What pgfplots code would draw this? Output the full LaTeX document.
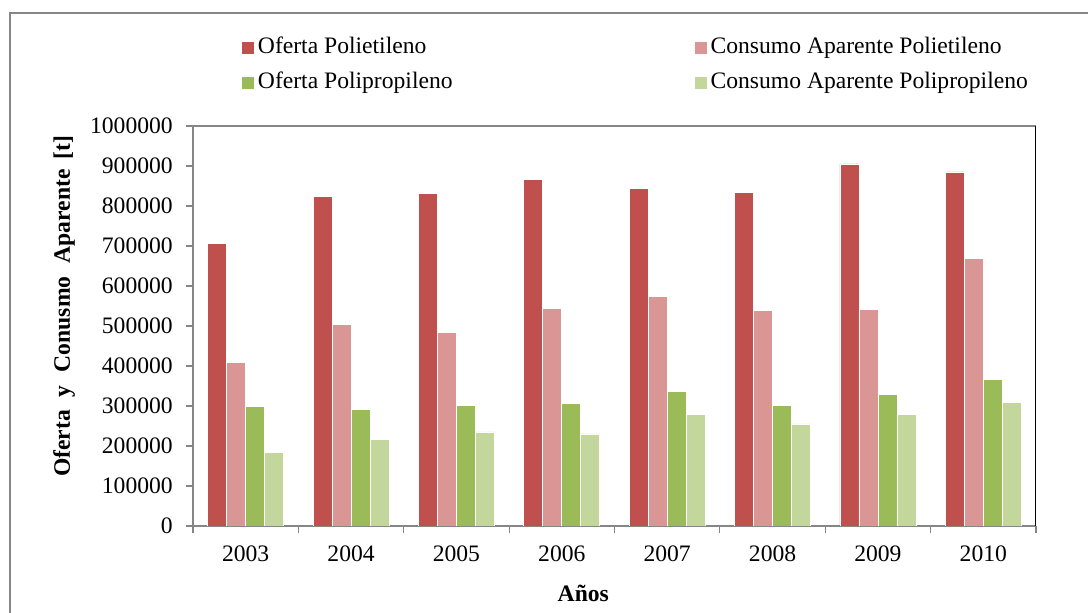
\documentclass[border=0pt]{standalone}
\usepackage{fontspec}
\setmainfont{Liberation Serif}
\usepackage{pgfplots}
\usepackage{pgfplotstable}
\pgfplotsset{compat=1.18}

\definecolor{ofpe}{HTML}{C0504D}
\definecolor{cope}{HTML}{D99694}
\definecolor{ofpp}{HTML}{9BBB59}
\definecolor{copp}{HTML}{C3D69B}
\definecolor{axgray}{HTML}{868686}

% oferta y consumo aparente (t), 2003-2010
\pgfplotstableread{
idx ofpe   cope   ofpp   copp
0   706000 409000 298000 184000
1   823000 503000 291000 217000
2   832000 484000 301000 235000
3   867000 544000 306000 230000
4   843000 574000 337000 279000
5   833000 538000 301000 255000
6   905000 541000 328000 278000
7   885000 668000 366000 308000
}\datatable

\pgfplotsset{
  sqlegend/.style={legend image code/.code={\path[##1,draw=none] (0pt,-3pt) rectangle (6pt,3pt);}},
  mybar/.style 2 args={ybar, bar width=9.5pt, bar shift=#1, fill=#2, draw=white, line width=0.4pt, sqlegend},
}

\begin{document}
\fontsize{11.8}{14}\selectfont
\begin{tikzpicture}
\useasboundingbox (0,0) rectangle (544pt,306.5pt);
\draw[axgray, line width=0.6pt] (5pt,300pt) rectangle (600pt,-20pt);
\begin{axis}[
  at={(96.5pt,43.5pt)}, anchor=south west,
  scale only axis, width=421.5pt, height=200pt,
  xmin=-0.5, xmax=7.5, ymin=0, ymax=1000000,
  axis x line*=bottom, axis y line*=left,
  x axis line style={-, axgray, line width=1.1pt},
  y axis line style={-, axgray, line width=0.6pt},
  tick align=outside, major tick length=3.5pt,
  xtick={-0.5,0.5,...,7.5}, xticklabels={},
  extra x ticks={0,1,2,3,4,5,6,7},
  extra x tick labels={2003,2004,2005,2006,2007,2008,2009,2010},
  extra x tick style={major tick length=0pt, tick label style={yshift=-5.6pt}},
  xtick style={axgray, line width=0.6pt},
  ytick={0,100000,...,1000000},
  ytick style={axgray, line width=0.6pt},
  scaled y ticks=false,
  /pgf/number format/assume math mode=true,
  yticklabel={\pgfmathprintnumber[fixed,precision=0,1000 sep={}]{\tick}},
  yticklabel style={xshift=-2.5pt},
  xlabel={\bfseries Años},
  xlabel style={at={(axis description cs:0.463,-0.1675)}, anchor=center},
  ylabel={\bfseries Oferta\hspace{6.5pt}y\hspace{6.5pt}Conusmo\hspace{6.5pt}Aparente\hspace{5pt}[t]},
  ylabel style={at={(axis description cs:-0.153,0.549)}, anchor=center},
  legend columns=2,
  legend style={at={(axis description cs:0.0581,1.2205)}, anchor=north west,
    draw=none, fill=none, inner sep=0pt, outer sep=0pt,
    /tikz/every even column/.append style={column sep=119pt},
    nodes={inner xsep=2pt, inner ysep=0pt, text height=8pt, text depth=2.5pt, anchor=west},
    row sep=7pt},
  legend cell align=left,
]
\addplot[mybar={-14.25pt}{ofpe}] table[x=idx, y=ofpe] {\datatable};
\addlegendentry{Oferta Polietileno}
\addplot[mybar={-4.75pt}{cope}] table[x=idx, y=cope] {\datatable};
\addlegendentry{Consumo Aparente Polietileno}
\addplot[mybar={4.75pt}{ofpp}] table[x=idx, y=ofpp] {\datatable};
\addlegendentry{Oferta Polipropileno}
\addplot[mybar={14.25pt}{copp}] table[x=idx, y=copp] {\datatable};
\addlegendentry{Consumo Aparente Polipropileno}
\draw[axgray, line width=0.6pt] (rel axis cs:0,1) -- (rel axis cs:1,1);
\draw[black, line width=0.5pt] (rel axis cs:1,0) -- (rel axis cs:1,1);
\end{axis}
\end{tikzpicture}
\end{document}
